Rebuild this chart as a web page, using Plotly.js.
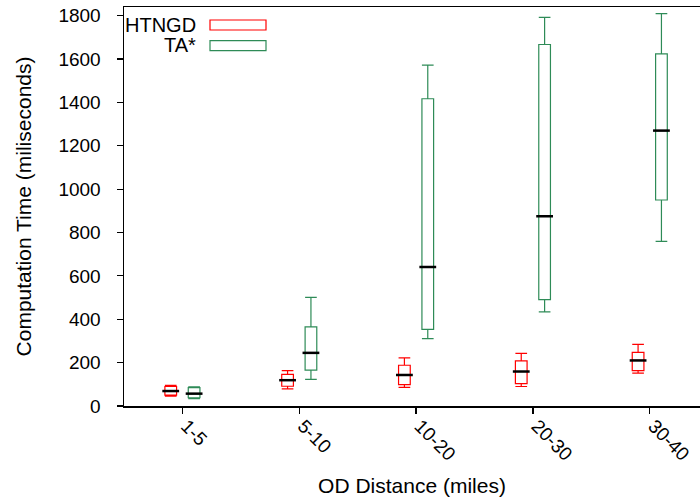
<!DOCTYPE html>
<html>
<head>
<meta charset="utf-8">
<script src="https://cdn.plot.ly/plotly-3.0.1.min.js"></script>
<style>
html,body{margin:0;padding:0;background:#fff;}
#chart{width:700px;height:497px;}
</style>
</head>
<body>
<div id="chart"></div>
<script>
// ---- data ----
var categories = ['1-5', '5-10', '10-20', '20-30', '30-40'];

var htngdLower  = [45, 79, 86, 90, 152];
var htngdQ1     = [50, 91, 99, 103, 163];
var htngdMedian = [69, 119, 143, 159, 210];
var htngdQ3     = [90, 146, 188, 208, 247];
var htngdUpper  = [95, 163, 222, 243, 284];

var taLower  = [34, 123, 311, 434, 759];
var taQ1     = [38, 165, 353, 491, 950];
var taMedian = [57, 245, 641, 875, 1270];
var taQ3     = [85, 365, 1417, 1667, 1624];
var taUpper  = [88, 501, 1572, 1792, 1809];

var seriesNames = ['HTNGD', 'TA*'];
var seriesColors = ['#ff0000', '#2e8b57'];

// ---- layout helpers ----
var W = 700, H = 497;
var M = {l: 124, r: 0, t: 7, b: 91};
var plotW = W - M.l - M.r, plotH = H - M.t - M.b;
function px2x(px) { return (px - M.l) / plotW; }
function px2y(py) { return (H - M.b - py) / plotH; }

var idx = categories.map(function (c, i) { return i; });
var offset = 0.1, boxW = 0.1;

function boxTrace(name, color, dx, lo, q1, med, q3, hi) {
  return {
    type: 'box', name: name,
    x: idx.map(function (i) { return i + dx; }),
    lowerfence: lo, q1: q1, median: med, q3: q3, upperfence: hi,
    width: boxW, whiskerwidth: 1,
    line: {color: color, width: 1.2},
    fillcolor: 'rgba(0,0,0,0)',
    boxpoints: false, hoverinfo: 'skip', showlegend: false
  };
}
function medianTrace(dx, med) {
  return {
    type: 'scatter', mode: 'markers',
    x: idx.map(function (i) { return i + dx; }), y: med,
    marker: {symbol: 'line-ew', size: 12, color: '#000', line: {color: '#000', width: 2.5}},
    hoverinfo: 'skip', showlegend: false
  };
}

var data = [
  boxTrace(seriesNames[0], seriesColors[0], -offset, htngdLower, htngdQ1, htngdMedian, htngdQ3, htngdUpper),
  boxTrace(seriesNames[1], seriesColors[1], offset, taLower, taQ1, taMedian, taQ3, taUpper),
  medianTrace(-offset, htngdMedian),
  medianTrace(offset, taMedian)
];

var fontFam = 'Liberation Sans, Arial, Helvetica, sans-serif';

var layout = {
  width: W, height: H,
  margin: M,
  paper_bgcolor: '#fff', plot_bgcolor: '#fff',
  font: {family: fontFam, size: 20, color: '#000'},
  showlegend: false,
  boxmode: 'overlay',
  xaxis: {
    range: [-0.5, 4.43],
    tickmode: 'array', tickvals: idx, ticktext: categories,
    tickangle: 45,
    ticks: 'outside', ticklen: 6, tickwidth: 1.2, tickcolor: '#000',
    ticklabelstandoff: -6, ticklabelshift: 4,
    showline: true, linecolor: '#000', linewidth: 1.5, mirror: true,
    showgrid: false, zeroline: false,
    tickfont: {size: 19},
    title: {text: 'OD Distance (miles)', font: {size: 21}, standoff: 14}
  },
  yaxis: {
    range: [0, 1840],
    tickmode: 'linear', tick0: 0, dtick: 200,
    ticks: 'outside', ticklen: 6, tickwidth: 1.2, tickcolor: '#000',
    ticklabelstandoff: 12,
    showline: true, linecolor: '#000', linewidth: 1.5, mirror: false,
    showgrid: false, zeroline: false,
    tickfont: {size: 19},
    title: {text: 'Computation Time (miliseconds)', font: {size: 21}, standoff: 21}
  },
  annotations: [
    {xref: 'paper', yref: 'paper', x: px2x(198), y: px2y(24.5), xanchor: 'right', yanchor: 'middle',
     text: seriesNames[0], showarrow: false, font: {size: 20}},
    {xref: 'paper', yref: 'paper', x: px2x(198), y: px2y(45), xanchor: 'right', yanchor: 'middle',
     text: seriesNames[1], showarrow: false, font: {size: 20}}
  ],
  shapes: [
    {type: 'rect', xref: 'paper', yref: 'paper', x0: px2x(210), x1: px2x(266), y0: px2y(30), y1: px2y(20),
     line: {color: seriesColors[0], width: 1.2}, fillcolor: 'rgba(0,0,0,0)'},
    {type: 'rect', xref: 'paper', yref: 'paper', x0: px2x(210), x1: px2x(266), y0: px2y(50.7), y1: px2y(40.7),
     line: {color: seriesColors[1], width: 1.2}, fillcolor: 'rgba(0,0,0,0)'}
  ]
};

Plotly.newPlot('chart', data, layout, {staticPlot: true, displayModeBar: false});
</script>
</body>
</html>
